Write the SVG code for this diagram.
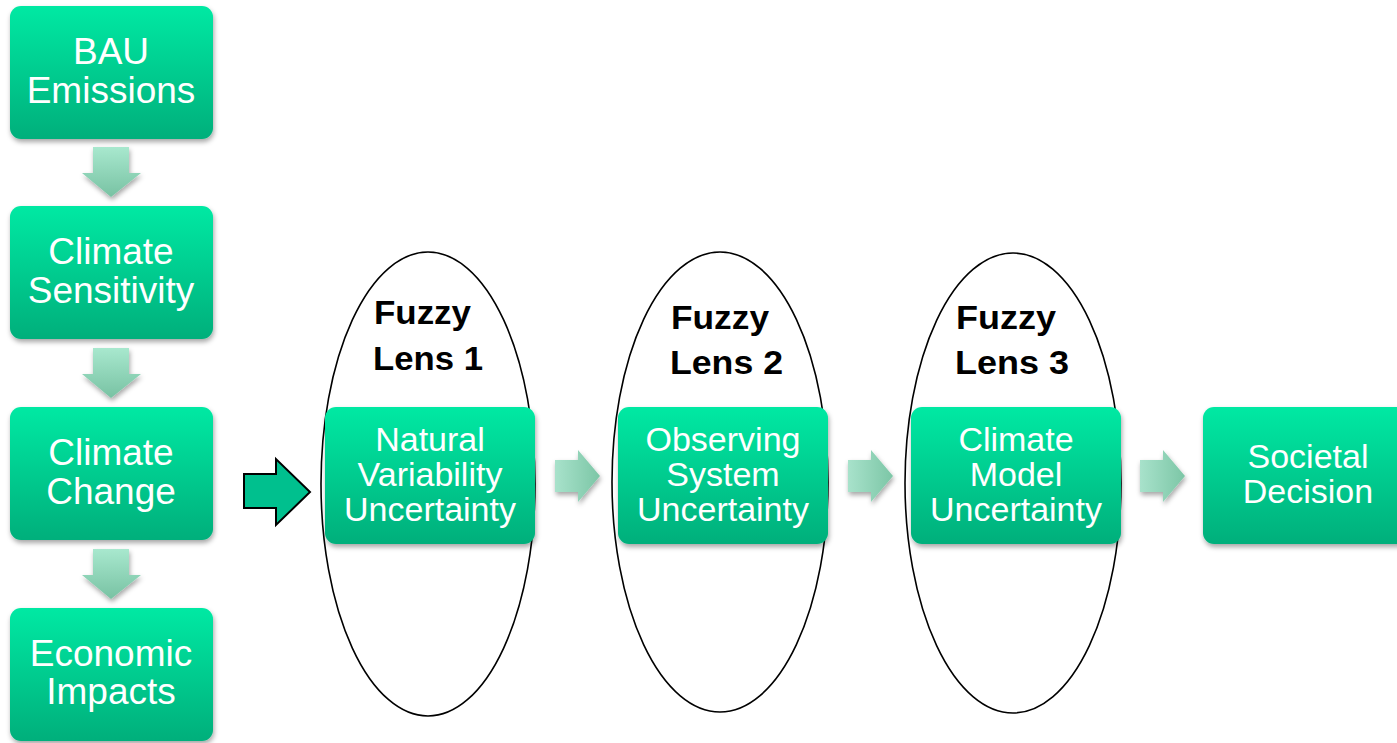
<svg xmlns="http://www.w3.org/2000/svg" width="1397" height="743" viewBox="0 0 1397 743">
  <defs>
    <linearGradient id="boxFill" x1="0" y1="0" x2="0" y2="1">
      <stop offset="0" stop-color="#00E9A3"/>
      <stop offset="1" stop-color="#00AF7B"/>
    </linearGradient>
    <linearGradient id="arrowFillV" x1="0" y1="0" x2="0" y2="1">
      <stop offset="0" stop-color="#A8E8CE"/>
      <stop offset="1" stop-color="#78C2A3"/>
    </linearGradient>
    <linearGradient id="arrowFillH" x1="0" y1="0" x2="1" y2="0">
      <stop offset="0" stop-color="#A8E2CB"/>
      <stop offset="1" stop-color="#7CC6A6"/>
    </linearGradient>
    <filter id="shadow" x="-10%" y="-10%" width="125%" height="130%">
      <feDropShadow dx="1" dy="3" stdDeviation="2.5" flood-color="#000" flood-opacity="0.35"/>
    </filter>
    <style>
      .box { fill: url(#boxFill); filter: url(#shadow); }
      .boxText { font-family: "Liberation Sans", Arial, sans-serif; fill: #fff; text-anchor: middle; }
      .big { font-size: 37px; }
      .mid { font-size: 34px; }
      .lens { fill: none; stroke: #000; stroke-width: 1.6; }
      .lensText { font-family: "Liberation Sans", Arial, sans-serif; font-weight: bold; font-size: 33px; fill: #000; }
      .downArrow { fill: url(#arrowFillV); filter: url(#shadow); }
      .rightArrow { fill: url(#arrowFillH); filter: url(#shadow); }
    </style>
  </defs>

  <!-- fuzzy lens ellipses -->
  <g id="lens1">
    <ellipse class="lens" cx="428" cy="484" rx="107" ry="232"/>
    <text class="lensText" x="374" y="324" textLength="97" lengthAdjust="spacingAndGlyphs">Fuzzy</text>
    <text class="lensText" x="373" y="370" textLength="110" lengthAdjust="spacingAndGlyphs">Lens 1</text>
  </g>
  <g id="lens2">
    <ellipse class="lens" cx="720" cy="482" rx="108" ry="230"/>
    <text class="lensText" x="671" y="329" textLength="98" lengthAdjust="spacingAndGlyphs">Fuzzy</text>
    <text class="lensText" x="670" y="374" textLength="113" lengthAdjust="spacingAndGlyphs">Lens 2</text>
  </g>
  <g id="lens3">
    <ellipse class="lens" cx="1013" cy="483" rx="108" ry="230"/>
    <text class="lensText" x="956" y="329" textLength="100" lengthAdjust="spacingAndGlyphs">Fuzzy</text>
    <text class="lensText" x="955" y="374" textLength="114" lengthAdjust="spacingAndGlyphs">Lens 3</text>
  </g>

  <!-- left column chain -->
  <g id="bau">
    <rect class="box" x="10" y="6" width="203" height="133" rx="11"/>
    <text class="boxText big" x="111" y="64">BAU</text>
    <text class="boxText big" x="111" y="103">Emissions</text>
  </g>
  <g id="sensitivity">
    <rect class="box" x="10" y="206" width="203" height="133" rx="11"/>
    <text class="boxText big" x="111" y="264">Climate</text>
    <text class="boxText big" x="111" y="303">Sensitivity</text>
  </g>
  <g id="change">
    <rect class="box" x="10" y="407" width="203" height="133" rx="11"/>
    <text class="boxText big" x="111" y="465">Climate</text>
    <text class="boxText big" x="111" y="504">Change</text>
  </g>
  <g id="impacts">
    <rect class="box" x="10" y="608" width="203" height="133" rx="11"/>
    <text class="boxText big" x="111" y="666">Economic</text>
    <text class="boxText big" x="111" y="704">Impacts</text>
  </g>

  <!-- uncertainty chain -->
  <g id="natural">
    <rect class="box" x="325" y="407" width="210" height="137" rx="11"/>
    <text class="boxText mid" x="430" y="451">Natural</text>
    <text class="boxText mid" x="430" y="486">Variability</text>
    <text class="boxText mid" x="430" y="521">Uncertainty</text>
  </g>
  <g id="observing">
    <rect class="box" x="618" y="407" width="210" height="137" rx="11"/>
    <text class="boxText mid" x="723" y="451">Observing</text>
    <text class="boxText mid" x="723" y="486">System</text>
    <text class="boxText mid" x="723" y="521">Uncertainty</text>
  </g>
  <g id="model">
    <rect class="box" x="911" y="407" width="210" height="137" rx="11"/>
    <text class="boxText mid" x="1016" y="451">Climate</text>
    <text class="boxText mid" x="1016" y="486">Model</text>
    <text class="boxText mid" x="1016" y="521">Uncertainty</text>
  </g>
  <g id="decision">
    <rect class="box" x="1203" y="407" width="210" height="137" rx="11"/>
    <text class="boxText mid" x="1308" y="468">Societal</text>
    <text class="boxText mid" x="1308" y="503">Decision</text>
  </g>

  <!-- connectors -->
  <g id="connectors">
    <path class="downArrow" d="M93 147 H129 V173 H141 L111 197 L82 173 H93 Z"/>
    <path class="downArrow" d="M93 348 H129 V374 H141 L111 398 L82 374 H93 Z"/>
    <path class="downArrow" d="M93 549 H129 V575 H141 L111 599 L82 575 H93 Z"/>
    <path d="M244 474 H276 V459 L310 492 L276 525 V508 H244 Z" fill="#00C08E" stroke="#000" stroke-width="2" stroke-linejoin="miter"/>
    <path class="rightArrow" d="M555 460 H578 V450 L600 476 L578 502 V492 H555 Z"/>
    <path class="rightArrow" d="M848 460 H871 V450 L893 476 L871 502 V492 H848 Z"/>
    <path class="rightArrow" d="M1140 460 H1163 V450 L1185 476 L1163 502 V492 H1140 Z"/>
  </g>
</svg>
